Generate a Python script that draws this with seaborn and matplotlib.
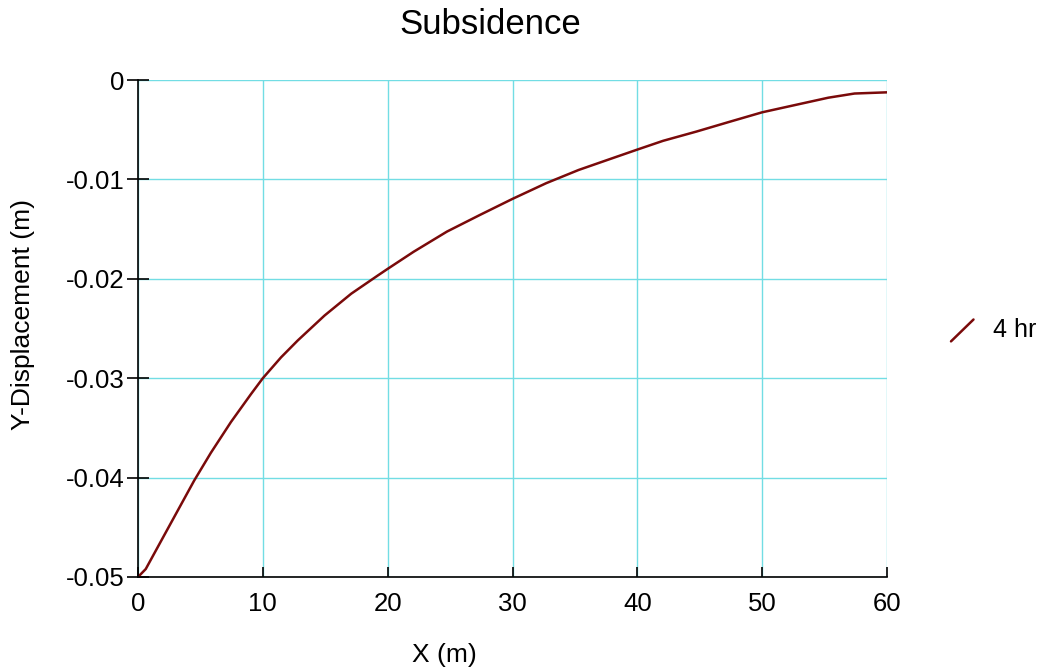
import matplotlib
matplotlib.use("Agg")
import matplotlib.pyplot as plt
import seaborn as sns
import pandas as pd
from matplotlib.lines import Line2D
from matplotlib.legend_handler import HandlerLine2D

x_m = [0, 0.62, 2.1, 4.5, 5.84, 7.45, 9.05, 10, 11.46, 12.8, 14.94, 17.08, 19.23, 20,
       22.08, 24.75, 27.4, 30, 32.7, 35.3, 38, 40, 42.06, 44.7, 47.4, 50, 52.7, 55.3,
       57.4, 60]
y_disp = [-0.0500, -0.0492, -0.0458, -0.0403, -0.0375, -0.0344, -0.0316, -0.0300, -0.0279,
          -0.0262, -0.0237, -0.0215, -0.01965, -0.0190, -0.01728, -0.01525, -0.01357,
          -0.01196, -0.01038, -0.00905, -0.00787, -0.00700, -0.00612, -0.0052, -0.0042,
          -0.00325, -0.0025, -0.00178, -0.00136, -0.00124]
series_label = "4 hr"
x_ticks = [0, 10, 20, 30, 40, 50, 60]
y_ticks = [0, -0.01, -0.02, -0.03, -0.04, -0.05]
y_tick_labels = ["0", "-0.01", "-0.02", "-0.03", "-0.04", "-0.05"]

sns.set_style("white")
plt.rcParams['font.family'] = ['Liberation Sans', 'DejaVu Sans']
plt.rcParams['text.color'] = 'black'

df = pd.DataFrame({"x": x_m, "y": y_disp})

W, H = 1039, 668
fig = plt.figure(figsize=(W / 100, H / 100), dpi=100)
ax = fig.add_axes([138 / W, 1 - 577 / H, (887 - 138) / W, (577 - 80) / H])

line_color = "#7a0a0a"
sns.lineplot(data=df, x="x", y="y", ax=ax, color=line_color, linewidth=1.8)

ax.set_xlim(0, 60)
ax.set_ylim(-0.05, 0)
ax.set_xticks(x_ticks)
ax.set_xticklabels([str(t) for t in x_ticks])
ax.set_yticks(y_ticks)
ax.set_yticklabels(y_tick_labels)

ax.grid(True, color="#72dde4", linewidth=1.0)
ax.set_axisbelow(True)
for s in ["top", "right"]:
    ax.spines[s].set_visible(False)
for s in ["left", "bottom"]:
    ax.spines[s].set_color("black")
    ax.spines[s].set_linewidth(1.2)

ax.tick_params(axis="y", left=True, direction="inout", length=16, width=1.2,
               labelsize=18.5, pad=1.5, colors="black")
ax.tick_params(axis="x", bottom=True, direction="in", length=7.5, width=1.2,
               labelsize=18.5, pad=11, colors="black")

ax.set_xlabel("")
ax.set_ylabel("")
fig.text(444 / W, 1 - 655 / H, "X (m)", fontsize=19, ha="center", va="center")
fig.text(23 / W, 1 - 314 / H, "Y-Displacement (m)", fontsize=19, ha="center", va="center",
         rotation=90)
fig.text(490 / W, 1 - 25 / H, "Subsidence", fontsize=25, ha="center", va="center")


class HandlerDiag(HandlerLine2D):
    def create_artists(self, legend, orig_handle, xdescent, ydescent, width, height, fontsize, trans):
        l = Line2D([width * 0.1, width * 0.85], [-height * 0.25, height * 1.0],
                   color=orig_handle.get_color(), linewidth=orig_handle.get_linewidth())
        l.set_transform(trans)
        return [l]


h = Line2D([], [], color=line_color, linewidth=1.8)
leg = fig.legend([h], [series_label], loc="center left", bbox_to_anchor=(948 / W, 1 - 330 / H),
                 frameon=False, fontsize=18, handler_map={Line2D: HandlerDiag()},
                 handlelength=1.2, handletextpad=0.6, borderpad=0, borderaxespad=0)

fig.savefig("out.png", dpi=100)
